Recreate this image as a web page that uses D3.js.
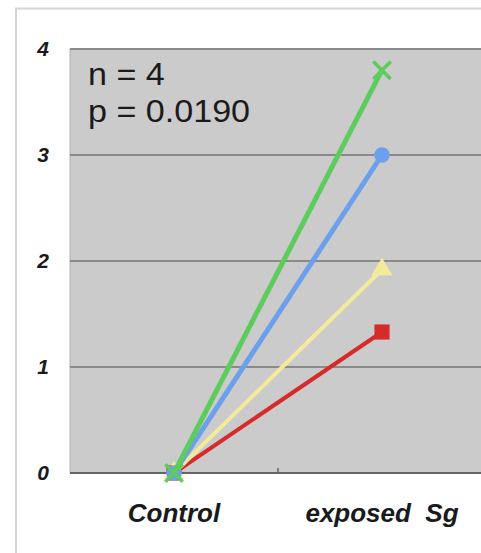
<!DOCTYPE html>
<html>
<head>
<meta charset="utf-8">
<script src="https://cdn.jsdelivr.net/npm/d3@7"></script>
<style>
  body { margin: 0; background: #fff; }
</style>
</head>
<body>
<div id="chart"></div>
<script>
var categories = ["Control", "exposed  Sg"];
var yTicks = [0, 1, 2, 3, 4];
var seriesNames = ["green", "blue", "yellow", "red"];
var greenValues = [0, 3.8];
var blueValues = [0, 3.0];
var yellowValues = [0, 1.92];
var redValues = [0, 1.33];
var statLines = ["n = 4", "p = 0.0190"];

var width = 481, height = 553;
var margin = {left: 70, right: -5, top: 49, bottom: 80};

var svg = d3.select("#chart").append("svg")
    .attr("width", width).attr("height", height);

// outer frame
svg.append("path")
    .attr("d", "M16," + height + "V8.5H" + width)
    .attr("fill", "none")
    .attr("stroke", "#d4d4d4")
    .attr("stroke-width", 2);

var x = d3.scaleBand()
    .domain(categories)
    .range([margin.left, width - margin.right]);

var y = d3.scaleLinear()
    .domain([0, 4])
    .range([height - margin.bottom, margin.top]);

svg.append("rect")
    .attr("x", margin.left)
    .attr("y", y(4))
    .attr("width", width - margin.right - margin.left)
    .attr("height", y(0) - y(4))
    .attr("fill", "#cbcbcb")
    .attr("stroke", "#b0b0b0");

// grid lines
svg.append("g")
    .selectAll("line")
    .data(yTicks.filter(d => d > 0))
    .join("line")
    .attr("x1", margin.left)
    .attr("x2", width)
    .attr("y1", d => y(d))
    .attr("y2", d => y(d))
    .attr("stroke", "#8a8a8a")
    .attr("stroke-width", 2);

// x axis
var xAxis = svg.append("g")
    .attr("transform", "translate(0," + y(0) + ")");
xAxis.append("line")
    .attr("x1", margin.left).attr("x2", width)
    .attr("stroke", "#666").attr("stroke-width", 2);
xAxis.append("line")
    .attr("x1", x(categories[1])).attr("x2", x(categories[1]))
    .attr("y1", -5).attr("y2", 0)
    .attr("stroke", "#666").attr("stroke-width", 1.5);
xAxis.selectAll("text")
    .data(categories)
    .join("text")
    .attr("x", d => x(d) + x.bandwidth() / 2)
    .attr("y", 49)
    .attr("text-anchor", "middle")
    .style("font-family", "Liberation Sans, Arial, sans-serif")
    .style("font-weight", "bold")
    .style("font-style", "italic")
    .style("font-size", "26px")
    .style("white-space", "pre")
    .attr("fill", "#1a1a1a")
    .text(d => d);

// y labels
svg.append("g")
    .selectAll("text")
    .data(yTicks)
    .join("text")
    .attr("x", 43)
    .attr("y", d => y(d) + 7)
    .attr("text-anchor", "middle")
    .style("font-family", "Liberation Sans, Arial, sans-serif")
    .style("font-weight", "bold")
    .style("font-style", "italic")
    .style("font-size", "21px")
    .attr("fill", "#1a1a1a")
    .text(d => d);

var series = [
    {name: seriesNames[0], values: greenValues, color: "#5dcc5d", symbol: "x", w: 5},
    {name: seriesNames[1], values: blueValues, color: "#6c9fec", symbol: "circle", w: 5},
    {name: seriesNames[2], values: yellowValues, color: "#f3ea9c", symbol: "triangle", w: 4},
    {name: seriesNames[3], values: redValues, color: "#d62b2b", symbol: "square", w: 4}
];

var cx = c => x(c) + x.bandwidth() / 2;
var line = d3.line()
    .x((d, i) => cx(categories[i]))
    .y(d => y(d));

var sg = svg.append("g")
    .selectAll("g")
    .data(series.slice().reverse())
    .join("g");

sg.append("path")
    .attr("d", d => line(d.values))
    .attr("fill", "none")
    .attr("stroke", d => d.color)
    .attr("stroke-width", d => d.w);

var symbols = {
    circle: d3.symbol(d3.symbolCircle, 190),
    square: d3.symbol(d3.symbolSquare, 230),
    triangle: d3.symbol(d3.symbolTriangle, 190),
    x: d3.symbol(d3.symbolX, 200)
};

sg.each(function (s) {
    d3.select(this).selectAll("path.mk")
        .data(s.values)
        .join("path")
        .attr("class", "mk")
        .attr("transform", (d, i) => "translate(" + cx(categories[i]) + "," + y(d) + ")")
        .attr("d", symbols[s.symbol]())
        .attr("fill", s.symbol === "x" ? "none" : s.color)
        .attr("stroke", s.color)
        .attr("stroke-width", s.symbol === "x" ? 3.5 : 0);
});

// top edge of plot, same grey as grid
svg.append("line")
    .attr("x1", margin.left).attr("x2", width)
    .attr("y1", y(4)).attr("y2", y(4))
    .attr("stroke", "#8a8a8a").attr("stroke-width", 2);

// stats text
svg.append("g")
    .selectAll("text")
    .data(statLines)
    .join("text")
    .attr("transform", (d, i) => "translate(88," + (85 + i * 37) + ") scale(1.1,1)")
    .style("font-family", "Liberation Sans, Arial, sans-serif")
    .style("font-size", "31px")
    .attr("fill", "#1a1a1a")
    .text(d => d);
</script>
</body>
</html>
